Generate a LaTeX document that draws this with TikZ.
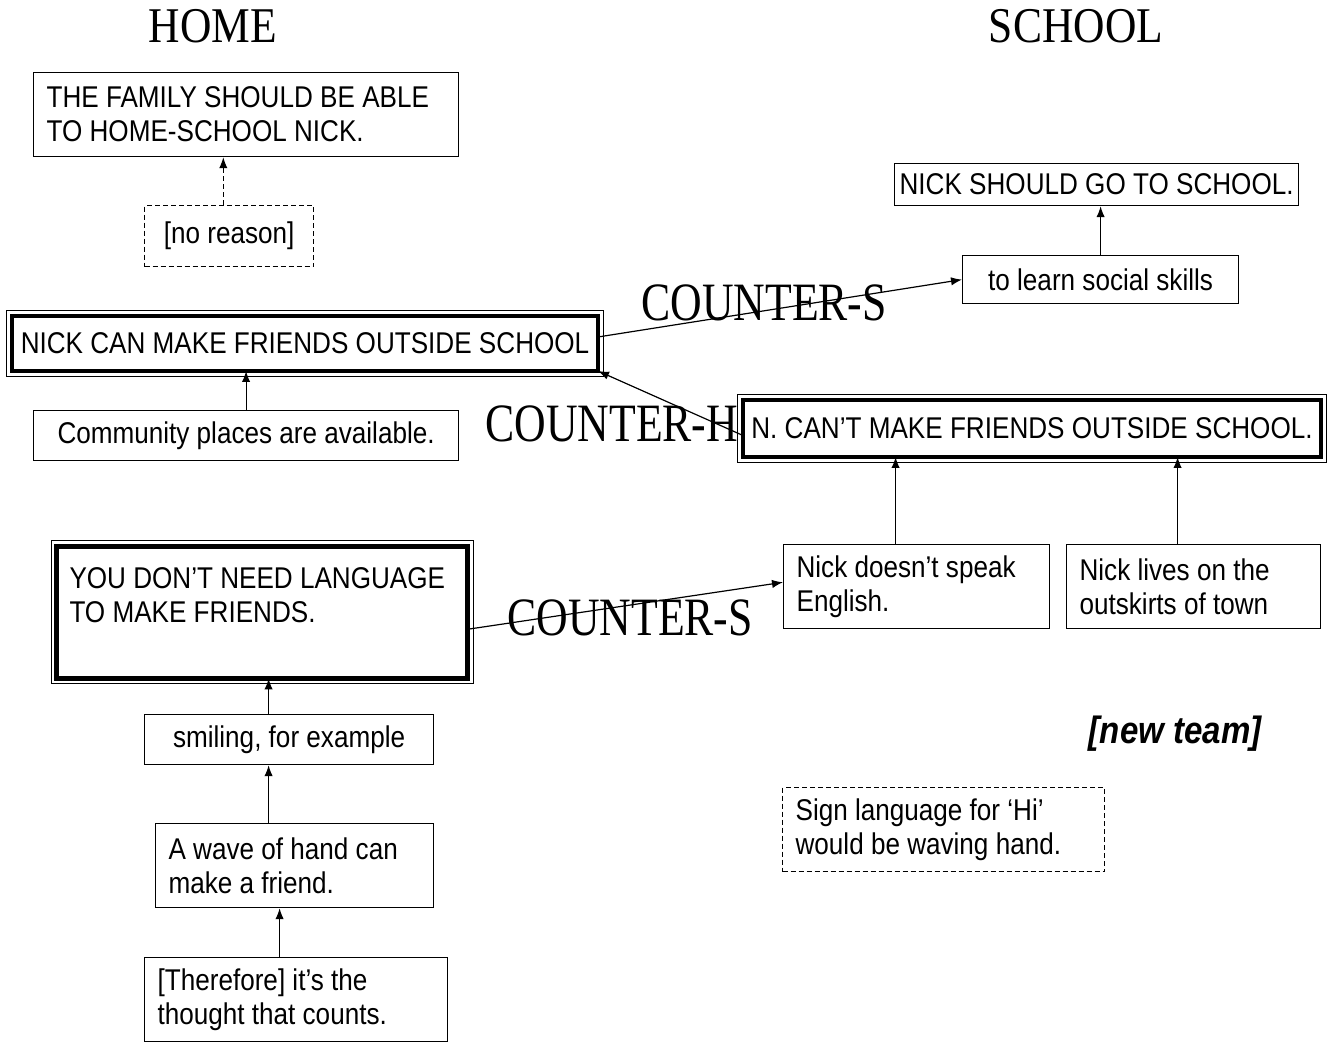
\documentclass[tikz,border=0pt]{standalone}
\usepackage{fontspec}
\setmainfont{Liberation Sans}[FakeStretch=0.87]
\newfontfamily\headfont{Liberation Serif}[FakeStretch=0.87]
\newfontfamily\counterfont{Liberation Serif}[FakeStretch=0.81]
\usetikzlibrary{arrows.meta,fit}

\tikzset{
  box/.style={draw, line width=0.6pt, anchor=north west, inner xsep=6.5pt, font=\fontsize{15pt}{17pt}\selectfont},
  leftbox/.style={box, align=flush left},
  dashbox/.style={box, dash pattern=on 2.5pt off 1.5pt},
  thickbox/.style={box, line width=2.25pt, outer sep=0pt},
  outerframe/.style={draw, line width=0.5pt, inner sep=2.75pt},
  head/.style={font=\headfont\fontsize{25pt}{30pt}\selectfont},
  counter/.style={anchor=base west, inner sep=0pt, font=\counterfont\fontsize{27pt}{32pt}\selectfont},
  link/.style={->, line width=0.6pt},
}

\begin{document}
\begin{tikzpicture}[x=0.5pt, y=-0.5pt, >={Latex[length=5.5pt,width=4.2pt]}]
    \useasboundingbox (0,0) rectangle (1335,1042);

    \node[head] (home) at (213,26.5) {HOME};
    \node[head] (school) at (1076,26.5) {SCHOOL};

    % home side
    \node[leftbox, text width=199.5pt, minimum height=42pt] (family) at (33,72) {THE FAMILY SHOULD BE ABLE\\TO HOME-SCHOOL NICK.};
    \node[dashbox, minimum width=84.5pt, minimum height=30.5pt] (noreason) at (144,205) {[no reason]};

    \node[thickbox, inner xsep=2pt, minimum width=293pt, minimum height=27.5pt] (nick) at (12,316) {NICK CAN MAKE FRIENDS OUTSIDE SCHOOL};
    \node[outerframe, fit=(nick)] (nickframe) {};
    \node[box, minimum width=212.5pt, minimum height=25pt] (community) at (33,410) {Community places are available.};

    \node[thickbox, align=flush left, text width=192.5pt, minimum height=66pt] (you) at (56.5,546.5) {YOU DON'T NEED LANGUAGE\\TO MAKE FRIENDS.\\\mbox{}};
    \node[outerframe, fit=(you)] (youframe) {};
    \node[box, minimum width=144.5pt, minimum height=25pt] (smiling) at (144,714) {smiling, for example};
    \node[leftbox, text width=126pt, minimum height=42pt] (wave) at (155,823) {A wave of hand can\\make a friend.};
    \node[leftbox, text width=138.5pt, minimum height=42pt] (therefore) at (144,957) {[Therefore] it's the\\thought that counts.};

    % school side
    \node[box, inner xsep=2pt, minimum width=202pt, minimum height=21pt] (should) at (894,163) {NICK SHOULD GO TO SCHOOL.};
    \node[box, minimum width=138pt, minimum height=24pt] (learn) at (962,255) {to learn social skills};

    \node[thickbox, inner xsep=2pt, minimum width=289pt, minimum height=28.5pt] (cant) at (743,400) {N. CAN'T MAKE FRIENDS OUTSIDE SCHOOL.};
    \node[outerframe, fit=(cant)] (cantframe) {};
    \node[leftbox, text width=120pt, minimum height=42pt] (speak) at (783,544) {Nick doesn't speak\\English.};
    \node[leftbox, text width=114pt, minimum height=42pt] (lives) at (1066,544) {Nick lives on the\\outskirts of town};

    \node[anchor=east, inner sep=0pt, font=\bfseries\itshape\fontsize{19pt}{22pt}\selectfont] (newteam) at (1262,734) {[new team]};
    \node[dashbox, align=flush left, text width=148pt, minimum height=42pt] (sign) at (782,787) {Sign language for `Hi'\\would be waving hand.};

    % counter labels
    \node[counter] (counterS) at (641,321) {COUNTER-S};
    \node[counter] (counterH) at (485,442) {COUNTER-H};
    \node[counter] (counterSb) at (507,636) {COUNTER-S};

    % arrow feet
    \coordinate (noreasontop) at ([xshift=-2.9pt]noreason.north);
    \coordinate (speaktop) at ([xshift=-10.5pt]speak.north);
    \coordinate (livestop) at ([xshift=-8pt]lives.north);
    \coordinate (smilingtop) at ([xshift=-10.25pt]smiling.north);
    \coordinate (wavetop) at ([xshift=-13pt]wave.north);
    \coordinate (thereforetop) at ([xshift=-8.25pt]therefore.north);

    \draw[link, dash pattern=on 2.5pt off 1.5pt] (noreasontop) -- (noreasontop |- family.south);
    \draw[link] (community.north) -- (community.north |- nick.south);
    \draw[link] (learn.north) -- (learn.north |- should.south);
    \draw[link] (speaktop) -- (speaktop |- cant.south);
    \draw[link] (livestop) -- (livestop |- cant.south);
    \draw[link] (smilingtop) -- (smilingtop |- you.south);
    \draw[link] (wavetop) -- (wavetop |- smiling.south);
    \draw[link] (thereforetop) -- (thereforetop |- wave.south);

    % counters
    \draw[link] ([yshift=3.25pt]nick.east) -- (learn.west);
    \draw[link] ([yshift=-3.5pt]cant.west) -- (nick.south east);
    \draw[link] ([yshift=-8.4pt]you.east) -- ([yshift=2.15pt]speak.west);
\end{tikzpicture}
\end{document}
